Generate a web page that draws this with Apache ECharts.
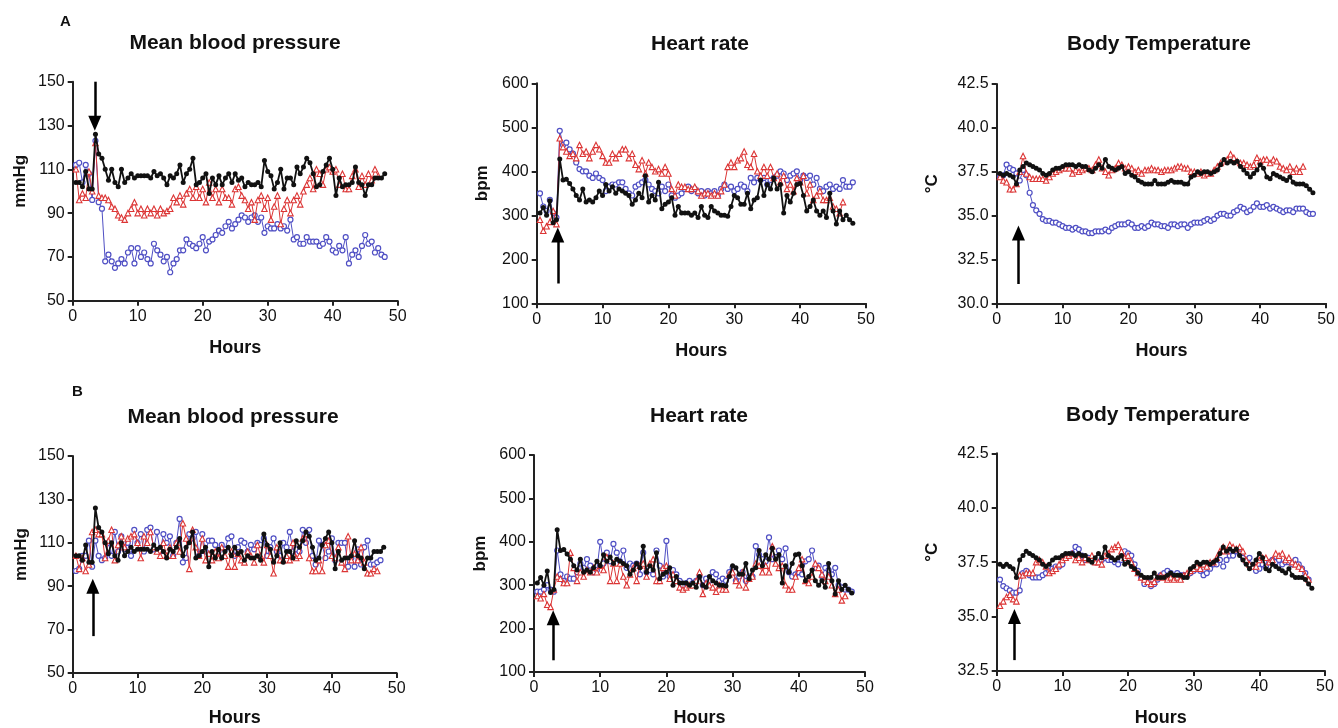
<!DOCTYPE html>
<html><head><meta charset="utf-8">
<script src="https://cdn.jsdelivr.net/npm/echarts@6/dist/echarts.min.js"></script>
<style>html,body{margin:0;padding:0;background:#fff}#c{width:1338px;height:728px}</style>
</head><body><div id="c"></div>
<script>
// time points (hours)
const hours = [
0.5,1,1.5,2,2.5,3,3.5,4,4.5,5,5.5,6,
6.5,7,7.5,8,8.5,9,9.5,10,10.5,11,11.5,12,
12.5,13,13.5,14,14.5,15,15.5,16,16.5,17,17.5,18,
18.5,19,19.5,20,20.5,21,21.5,22,22.5,23,23.5,24,
24.5,25,25.5,26,26.5,27,27.5,28,28.5,29,29.5,30,
30.5,31,31.5,32,32.5,33,33.5,34,34.5,35,35.5,36,
36.5,37,37.5,38,38.5,39,39.5,40,40.5,41,41.5,42,
42.5,43,43.5,44,44.5,45,45.5,46,46.5,47,47.5,48];

// ---- Mean blood pressure (mmHg) ----
const mbpBlack = [
104,104,102,109,101,101,126,117,115,110,105,110,
104,102,110,104,106,108,106,107,107,107,107,106,
109,107,108,106,103,107,106,108,112,104,108,110,
115,103,104,106,108,99,106,103,107,103,106,108,
104,108,105,106,102,104,103,103,104,102,114,109,
107,101,104,110,101,106,106,103,111,108,111,115,
113,108,102,103,109,112,115,110,98,106,102,103,
103,104,111,104,103,98,103,103,106,106,106,108];
const mbpRedA = [
110,96,99,97,109,100,122,98,97,97,96,93,
92,89,88,87,90,92,95,90,92,89,92,90,
92,89,92,90,91,92,97,95,98,94,99,101,
97,102,97,101,95,104,97,101,95,101,97,97,
94,101,102,98,96,92,95,87,96,98,92,97,
87,93,98,85,92,96,90,96,98,94,100,103,
106,101,110,108,103,110,111,109,110,103,108,101,
101,107,110,102,107,103,108,105,110,107,null,null];
const mbpBlueA = [
112,113,104,112,108,96,123,95,92,68,71,68,
65,67,69,67,72,74,67,74,70,72,69,67,
76,73,71,68,70,63,67,69,73,73,78,76,
75,74,76,79,73,77,78,80,82,81,84,86,
83,85,87,89,88,86,88,89,86,88,81,84,
83,83,85,83,84,82,87,78,79,76,76,79,
77,77,77,75,76,79,77,73,72,75,73,79,
67,71,73,70,75,80,76,77,72,74,71,70];
const mbpRedB = [
104,98,103,97,100,115,116,114,114,103,111,116,
102,109,113,108,112,113,114,110,103,113,110,115,
108,106,104,110,104,108,104,110,106,119,112,98,
116,108,104,112,102,105,102,106,103,108,104,99,
106,99,105,102,101,106,104,101,109,104,101,109,
104,96,108,102,102,104,102,110,103,104,112,114,
103,97,97,102,97,109,111,104,103,108,101,98,
113,102,105,102,108,101,96,96,98,97,null,null];
const mbpBlueB = [
97,98,104,104,111,99,111,104,102,103,110,104,
115,106,113,107,110,104,116,110,114,106,116,117,
107,115,106,114,110,113,104,110,121,101,103,114,
112,115,104,114,106,111,111,109,106,109,107,112,
113,104,108,111,110,106,109,107,110,109,112,104,
108,112,106,104,110,108,115,106,107,106,116,110,
116,104,100,111,109,103,106,112,102,110,110,110,
99,103,99,107,100,108,111,100,100,101,102,null];

// ---- Heart rate (bpm) ----
const hrBlack = [
305,318,300,333,283,290,428,380,382,372,360,345,
335,360,330,335,330,340,355,345,370,355,365,350,
360,355,350,345,325,335,350,340,390,330,345,335,
375,315,325,330,340,300,320,305,305,305,300,305,
295,320,300,295,320,310,305,300,300,298,320,345,
340,325,325,350,315,335,340,380,345,370,360,385,
360,370,305,345,330,350,370,372,345,310,320,335,
310,300,310,295,350,310,280,310,290,300,290,282];
const hrRedA = [
290,265,275,285,310,280,475,455,445,435,440,430,
460,440,445,430,445,460,450,435,420,420,440,430,
440,450,450,430,440,415,405,425,395,420,410,400,
405,395,410,395,360,345,370,365,365,360,360,365,
355,345,350,350,345,350,345,355,370,410,420,410,
425,430,445,415,410,440,400,390,410,390,410,385,
395,375,390,360,370,355,385,375,390,350,370,335,
345,355,335,335,340,320,315,305,330,null,null,null];
const hrBlueA = [
350,320,310,335,305,295,492,460,465,450,440,420,
405,400,400,390,385,395,385,380,355,365,370,370,
375,375,360,350,345,365,370,375,380,370,360,355,
350,365,355,370,345,340,345,350,360,365,355,360,
350,355,345,355,350,355,345,360,370,360,365,355,
360,370,365,355,385,375,385,380,385,370,380,385,
390,400,395,380,390,395,400,380,390,385,390,370,
385,360,355,365,370,360,365,360,380,365,365,375];
const hrRedB = [
275,270,280,255,250,290,320,315,305,305,375,340,
310,330,320,335,330,340,330,345,335,365,310,350,
310,350,320,300,325,340,310,345,350,320,350,360,
310,310,340,345,315,325,310,295,290,295,300,300,
310,330,280,305,300,295,285,300,290,290,325,330,
310,300,330,295,315,320,350,345,330,345,330,390,
350,340,345,300,290,290,320,340,360,310,305,320,
350,340,325,310,320,300,280,290,265,275,null,null];
const hrBlueB = [
285,285,290,300,290,285,380,325,310,320,315,315,
330,350,340,360,345,330,335,400,350,375,355,395,
375,355,380,340,350,345,350,325,375,330,335,325,
380,345,320,402,320,335,325,310,300,305,310,305,
310,320,300,315,310,330,325,310,315,310,330,340,
310,320,330,310,320,320,390,370,360,355,410,360,
365,380,360,385,330,320,325,330,325,355,360,380,
340,345,320,340,335,325,340,300,295,290,290,285];

// ---- Body temperature (°C) ----
const tBlack = [
37.4,37.3,37.4,37.3,37.2,36.8,37.6,37.8,38.0,37.9,37.8,37.7,
37.6,37.4,37.3,37.4,37.6,37.7,37.7,37.8,37.9,37.9,37.9,37.8,
37.9,37.8,37.8,37.6,37.5,37.7,37.9,37.7,38.2,37.8,37.7,37.6,
37.7,37.8,37.4,37.5,37.3,37.2,37.0,36.9,36.8,36.8,36.8,37.0,
36.8,36.8,36.8,36.9,37.0,36.9,36.9,36.9,36.8,36.8,37.2,37.3,
37.5,37.4,37.5,37.5,37.4,37.5,37.6,37.9,38.2,38.0,38.1,38.0,
38.1,37.8,37.6,37.4,37.2,37.4,37.6,37.9,37.7,37.2,37.1,37.4,
37.3,37.2,37.1,37.0,37.2,36.9,36.8,36.8,36.8,36.7,36.5,36.3];
const tRedA = [
37.2,37.0,36.9,36.5,36.5,36.8,37.5,38.4,37.4,37.2,37.1,37.1,
37.1,37.1,37.0,37.2,37.4,37.5,37.6,37.7,37.7,37.7,37.4,37.6,
37.5,37.6,37.7,37.7,37.6,37.9,38.2,37.7,37.5,37.3,37.6,37.7,
38.0,37.9,37.7,37.8,37.7,37.5,37.6,37.4,37.6,37.6,37.7,37.6,
37.6,37.5,37.6,37.6,37.6,37.7,37.8,37.8,37.7,37.7,37.5,37.5,
37.4,37.5,37.3,37.4,37.4,37.6,37.8,38.0,38.1,38.2,38.5,38.3,
38.1,38.0,38.0,37.9,37.8,37.9,38.3,38.1,38.2,38.2,38.0,38.2,
38.1,37.8,37.7,37.6,37.8,37.5,37.7,37.5,37.8,null,null,null];
const tBlueA = [
37.2,37.3,37.9,37.7,37.6,37.4,37.0,37.6,37.3,36.3,35.6,35.3,
35.1,34.8,34.7,34.7,34.6,34.6,34.5,34.4,34.3,34.3,34.2,34.3,
34.2,34.1,34.1,34.0,34.0,34.1,34.1,34.1,34.2,34.1,34.3,34.4,
34.5,34.5,34.5,34.6,34.5,34.3,34.3,34.4,34.3,34.4,34.6,34.5,
34.5,34.4,34.4,34.3,34.5,34.5,34.4,34.5,34.5,34.3,34.5,34.6,
34.6,34.6,34.7,34.8,34.7,34.8,35.0,35.1,35.1,35.0,35.0,35.2,
35.3,35.5,35.4,35.2,35.3,35.5,35.7,35.5,35.5,35.6,35.4,35.5,
35.4,35.3,35.2,35.3,35.3,35.2,35.4,35.4,35.4,35.2,35.1,35.1];
const tRedB = [
35.5,35.7,35.9,36.0,35.8,35.7,36.9,36.9,37.0,37.0,37.0,37.5,
37.6,37.5,37.3,37.0,37.1,37.2,37.4,37.6,37.7,37.8,37.9,37.6,
37.7,37.5,37.7,37.6,37.8,37.5,37.5,37.4,37.8,37.9,38.1,38.2,
38.3,38.0,37.7,37.8,37.5,37.2,37.0,36.8,36.7,36.6,36.5,36.6,
36.8,36.9,36.8,36.7,36.8,36.7,36.8,36.7,36.9,37.0,37.1,37.2,
37.3,37.2,37.4,37.3,37.5,37.5,37.7,38.0,38.2,38.0,38.3,38.2,
38.1,38.2,38.0,37.6,37.4,37.3,37.3,37.6,37.7,37.7,37.5,37.6,
37.9,37.8,37.9,37.6,37.7,37.5,37.4,37.3,37.2,36.9,36.7,null];
const tBlueB = [
36.7,36.4,36.3,36.2,36.1,36.1,36.2,37.0,37.1,36.9,36.8,36.8,
36.8,36.9,37.0,37.1,37.2,37.3,37.3,37.4,37.7,37.8,37.9,38.2,
38.1,37.8,37.6,37.7,37.6,37.5,37.7,37.6,37.7,37.6,37.6,37.5,
37.4,37.6,38.0,37.9,37.8,37.4,37.1,36.8,36.5,36.6,36.4,36.5,
36.7,36.9,37.0,37.1,37.0,36.8,37.0,36.9,36.9,36.9,37.0,37.1,
37.2,37.1,36.9,37.0,37.2,37.4,37.4,37.6,37.3,37.6,37.8,37.8,
38.0,37.9,37.7,37.5,37.7,37.3,37.1,37.2,37.4,37.3,37.5,37.6,
37.5,37.6,37.4,37.5,37.5,37.4,37.6,37.4,37.2,37.0,36.7,null];

// injection arrows (data coordinates: [hour, value] from -> to)
const arrowA1 = [[3.4,150],[3.4,131]];
const arrowA2 = [[3.2,145],[3.2,255]];
const arrowA3 = [[3.3,31.1],[3.3,34.0]];
const arrowB1 = [[3.1,67],[3.1,90]];
const arrowB2 = [[2.9,127],[2.9,225]];
const arrowB3 = [[2.7,33.0],[2.7,35.0]];

// axis settings
const xTicks = {min:0, max:50, interval:10};
const yMBP = {min:50, max:150, interval:20};
const yHR = {min:100, max:600, interval:100};
const yTA = {min:30, max:42.5, interval:2.5};
const yTB = {min:32.5, max:42.5, interval:2.5};

const titles = ['Mean blood pressure','Heart rate','Body Temperature'];
const yNames = ['mmHg','bpm','°C'];

const FONT = '"Liberation Sans", Arial, sans-serif';
const BLACK = '#111', RED = '#dc3535', BLUE = '#4f4fc4';

const grids = [
  {left:72.7, top:81.7, width:325, height:219},
  {left:536.7, top:83.3, width:329.3, height:220},
  {left:996.7, top:84, width:330, height:219.3},
  {left:72.7, top:456, width:324, height:217.3},
  {left:534, top:455, width:331, height:220},
  {left:996.7, top:453.3, width:328.3, height:219.4}
];
const yRanges = [yMBP, yHR, yTA, yMBP, yHR, yTB];
const nameGapsY = [44, 46, 56, 43, 45, 56];
const nameGapsX = [38, 39, 39, 36, 37, 38];

const zip = arr => hours.map((h,i) => [h, arr[i]]);

function xAxis(i){
  return {type:'value', gridIndex:i, ...xTicks,
    axisLine:{show:true, onZero:false, lineStyle:{color:'#222', width:2}},
    axisTick:{show:true, length:5, lineStyle:{color:'#222', width:2}},
    axisLabel:{color:'#111', fontSize:16, fontFamily:FONT, margin:8},
    splitLine:{show:false},
    name:'Hours', nameLocation:'middle', nameGap:nameGapsX[i],
    nameTextStyle:{fontWeight:'bold', fontSize:18, color:'#111', fontFamily:FONT}};
}
function yAxis(i){
  const temp = (i%3)===2;
  return {type:'value', gridIndex:i, ...yRanges[i],
    axisLine:{show:true, lineStyle:{color:'#222', width:2}},
    axisTick:{show:true, length:5, lineStyle:{color:'#222', width:2}},
    axisLabel:{color:'#111', fontSize:16, fontFamily:FONT, margin:8,
      formatter: v => temp ? v.toFixed(1) : String(v)},
    splitLine:{show:false},
    name:yNames[i%3], nameLocation:'middle', nameRotate:90, nameGap:nameGapsY[i],
    nameTextStyle:{fontWeight:'bold', fontSize:17, color:'#111', fontFamily:FONT, padding:[0,0,0,20]}};
}
function blue(arr, g){
  return {type:'line', xAxisIndex:g, yAxisIndex:g, data:zip(arr), z:2,
    symbol:'circle', symbolSize:5, showAllSymbol:true,
    lineStyle:{color:BLUE, width:1}, itemStyle:{color:'#fff', borderColor:BLUE, borderWidth:1.2}};
}
function red(arr, g){
  return {type:'line', xAxisIndex:g, yAxisIndex:g, data:zip(arr), z:3,
    symbol:'triangle', symbolSize:5.5, showAllSymbol:true,
    lineStyle:{color:RED, width:1}, itemStyle:{color:'#fff', borderColor:RED, borderWidth:1.1}};
}
function black(arr, g, arrow){
  return {type:'line', xAxisIndex:g, yAxisIndex:g, data:zip(arr), z:4,
    symbol:'circle', symbolSize:5, showAllSymbol:true,
    lineStyle:{color:BLACK, width:1.8}, itemStyle:{color:BLACK},
    markLine:{silent:true, animation:false, symbol:['none','triangle'], symbolSize:[13,15],
      label:{show:false}, lineStyle:{color:'#000', width:2.5, type:'solid'},
      data:[[{coord:arrow[0]},{coord:arrow[1]}]]}};
}

const graphic = [];
const titleX = [235, 700, 1159, 233, 699, 1158];
const titleY = [33, 34, 34, 407, 406, 405];
for (let i=0;i<6;i++){
  graphic.push({type:'text', x:titleX[i], y:titleY[i],
    style:{text:titles[i%3], fill:'#111', font:'bold 21px '+FONT,
      textAlign:'center', align:'center', textVerticalAlign:'top', verticalAlign:'top'}});
}
graphic.push({type:'text', x:60, y:14, style:{text:'A', fill:'#111', font:'bold 15px '+FONT}});
graphic.push({type:'text', x:72, y:384, style:{text:'B', fill:'#111', font:'bold 15px '+FONT}});

const option = {
  animation:false,
  backgroundColor:'#fff',
  graphic,
  grid: grids,
  xAxis: grids.map((_,i)=>xAxis(i)),
  yAxis: grids.map((_,i)=>yAxis(i)),
  series: [
    blue(mbpBlueA,0), red(mbpRedA,0), black(mbpBlack,0,arrowA1),
    blue(hrBlueA,1), red(hrRedA,1), black(hrBlack,1,arrowA2),
    blue(tBlueA,2), red(tRedA,2), black(tBlack,2,arrowA3),
    blue(mbpBlueB,3), red(mbpRedB,3), black(mbpBlack,3,arrowB1),
    blue(hrBlueB,4), red(hrRedB,4), black(hrBlack,4,arrowB2),
    blue(tBlueB,5), red(tRedB,5), black(tBlack,5,arrowB3)
  ]
};
const chart = echarts.init(document.getElementById('c'), null, {renderer:'canvas'});
chart.setOption(option);
</script></body></html>
